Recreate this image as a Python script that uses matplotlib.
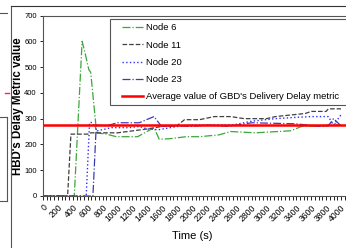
import numpy as np
import matplotlib.pyplot as plt
from matplotlib.lines import Line2D
from matplotlib.patches import Rectangle

plt.rcParams['font.family'] = ['Liberation Sans', 'DejaVu Sans']

# Node 6
t_n6 = [0, 420, 525, 560, 615, 640, 720, 850, 985, 1270, 1490, 1560, 1700,
        1920, 2100, 2360, 2520, 2850, 3330, 3470, 3790, 3900, 3950, 4000]
v_n6 = [0, 0, 600, 560, 490, 480, 245, 240, 230, 230, 265, 220, 222,
        230, 230, 237, 250, 245, 253, 270, 272, 285, 275, 275]
# Node 11
t_n11 = [0, 330, 375, 620, 640, 1000, 1400, 1600, 1800, 1900, 2100, 2300,
         2520, 2700, 3000, 3120, 3520, 3600, 3800, 3830, 4000]
v_n11 = [0, 0, 240, 240, 245, 245, 260, 270, 273, 296, 296, 308,
         308, 300, 300, 308, 320, 328, 328, 338, 338]
# Node 20
t_n20 = [0, 580, 625, 660, 730, 920, 1160, 1290, 1400, 1550, 1870, 2000,
         2560, 2800, 3120, 3400, 3600, 3830, 3900, 4000]
v_n20 = [0, 0, 285, 285, 253, 265, 265, 270, 260, 257, 273, 275,
         276, 290, 300, 305, 308, 308, 275, 315]
# Node 23
t_n23 = [0, 670, 715, 850, 1000, 1290, 1490, 1590, 1800, 2000, 2200, 2500,
         2800, 3100, 3400, 3700, 3830, 3900, 4000]
v_n23 = [0, 0, 275, 272, 284, 284, 308, 270, 272, 270, 275, 270,
         284, 282, 280, 270, 272, 300, 272]

moyenne_gbd = 274

W, H = 346, 248
fig = plt.figure(figsize=(W / 100, H / 100), dpi=100)

# axes : gauche 43 px, bas 196 px, haut 15.5 px, droite hors image
x0, x1 = 43, 362
y_bas, y_haut = 196, 15.5
px_par_s = 0.0745
ax = fig.add_axes([x0 / W, 1 - y_bas / H, (x1 - x0) / W, (y_bas - y_haut) / H])

ax.plot(t_n6, v_n6, color='#3aa83a', linestyle='-.', lw=0.9, label='Node 6')
ax.plot(t_n11, v_n11, color='#404040', linestyle='--', lw=0.9, label='Node 11')
ax.plot(t_n20, v_n20, color='#3030ff', linestyle=':', lw=1.0, label='Node 20')
ax.plot(t_n23, v_n23, color='#3a3ab8', linestyle='-.', lw=0.9, label='Node 23')
ax.axhline(moyenne_gbd, color='#ff0000', lw=1.8,
           label="Average value of GBD's Delivery Delay metric")

ax.set_xlim(0, (x1 - x0) / px_par_s)
ax.set_ylim(0, 700)
ax.set_xticks(np.arange(0, 4001, 200))
ax.set_xticks(np.arange(0, 4300, 50), minor=True)
ax.set_yticks(np.arange(0, 701, 100))
ax.tick_params(axis='x', labelsize=6.2, labelrotation=45, length=3, width=0.6, pad=2)
ax.tick_params(axis='x', which='minor', length=3, width=0.6)
ax.tick_params(axis='y', labelsize=5.5, length=2.5, width=0.6, pad=2)
for lab in ax.get_xticklabels():
    lab.set_ha('right')
    lab.set_rotation_mode('anchor')
for s in ax.spines.values():
    s.set_linewidth(0.8)
    s.set_color('#555555')

ax.set_xlabel('Time (s)', fontsize=8)
ax.set_ylabel("HBD's Delay Metric value", fontsize=8.3, fontweight='bold')
ax.xaxis.set_label_coords((192 - x0) / (x1 - x0), -(236 - y_bas) / (y_bas - y_haut))
ax.yaxis.set_label_coords(-(43 - 18.5) / (x1 - x0), 0.5)
ax.xaxis.label.set_va('center')
ax.yaxis.label.set_va('center')

# cadre de la légende tracé à part (il déborde à droite de l'image)
cadre = Rectangle((110 / W, 1 - 105 / H), 260 / W, 86 / H,
                  transform=fig.transFigure, facecolor='white',
                  edgecolor='#555555', lw=0.8, zorder=4, clip_on=False)
ax.add_patch(cadre)
leg = ax.legend(loc='upper left',
                bbox_to_anchor=((122 - x0) / (x1 - x0), 1 - (23.5 - y_haut) / (y_bas - y_haut)),
                fontsize=6.8, frameon=False, handlelength=2.2, handletextpad=0.35,
                labelspacing=0.87, borderpad=0, borderaxespad=0)
leg.set_zorder(5)

# bords du cadre et fragment du graphique voisin
fig.add_artist(Line2D([11.5 / W, 11.5 / W], [0, 1 - 6 / H], color='#555555', lw=0.8))
fig.add_artist(Line2D([11.5 / W, 1], [1 - 6 / H, 1 - 6 / H], color='#333333', lw=0.8))
fig.add_artist(Line2D([0, 7 / W], [1 - 13 / H, 1 - 13 / H], color='#555555', lw=0.8))
fig.add_artist(Line2D([0, 7 / W], [1 - 117 / H, 1 - 117 / H], color='#555555', lw=0.8))
fig.add_artist(Line2D([6.5 / W, 6.5 / W], [1 - 117 / H, 1 - 201 / H], color='#555555', lw=0.8))
fig.add_artist(Line2D([0, 7 / W], [1 - 201 / H, 1 - 201 / H], color='#555555', lw=0.8))
fig.add_artist(Line2D([5 / W, 9 / W], [1 - 93 / H, 1 - 93 / H], color='#ff2060', lw=1.0))

fig.savefig('out.png', dpi=100)
